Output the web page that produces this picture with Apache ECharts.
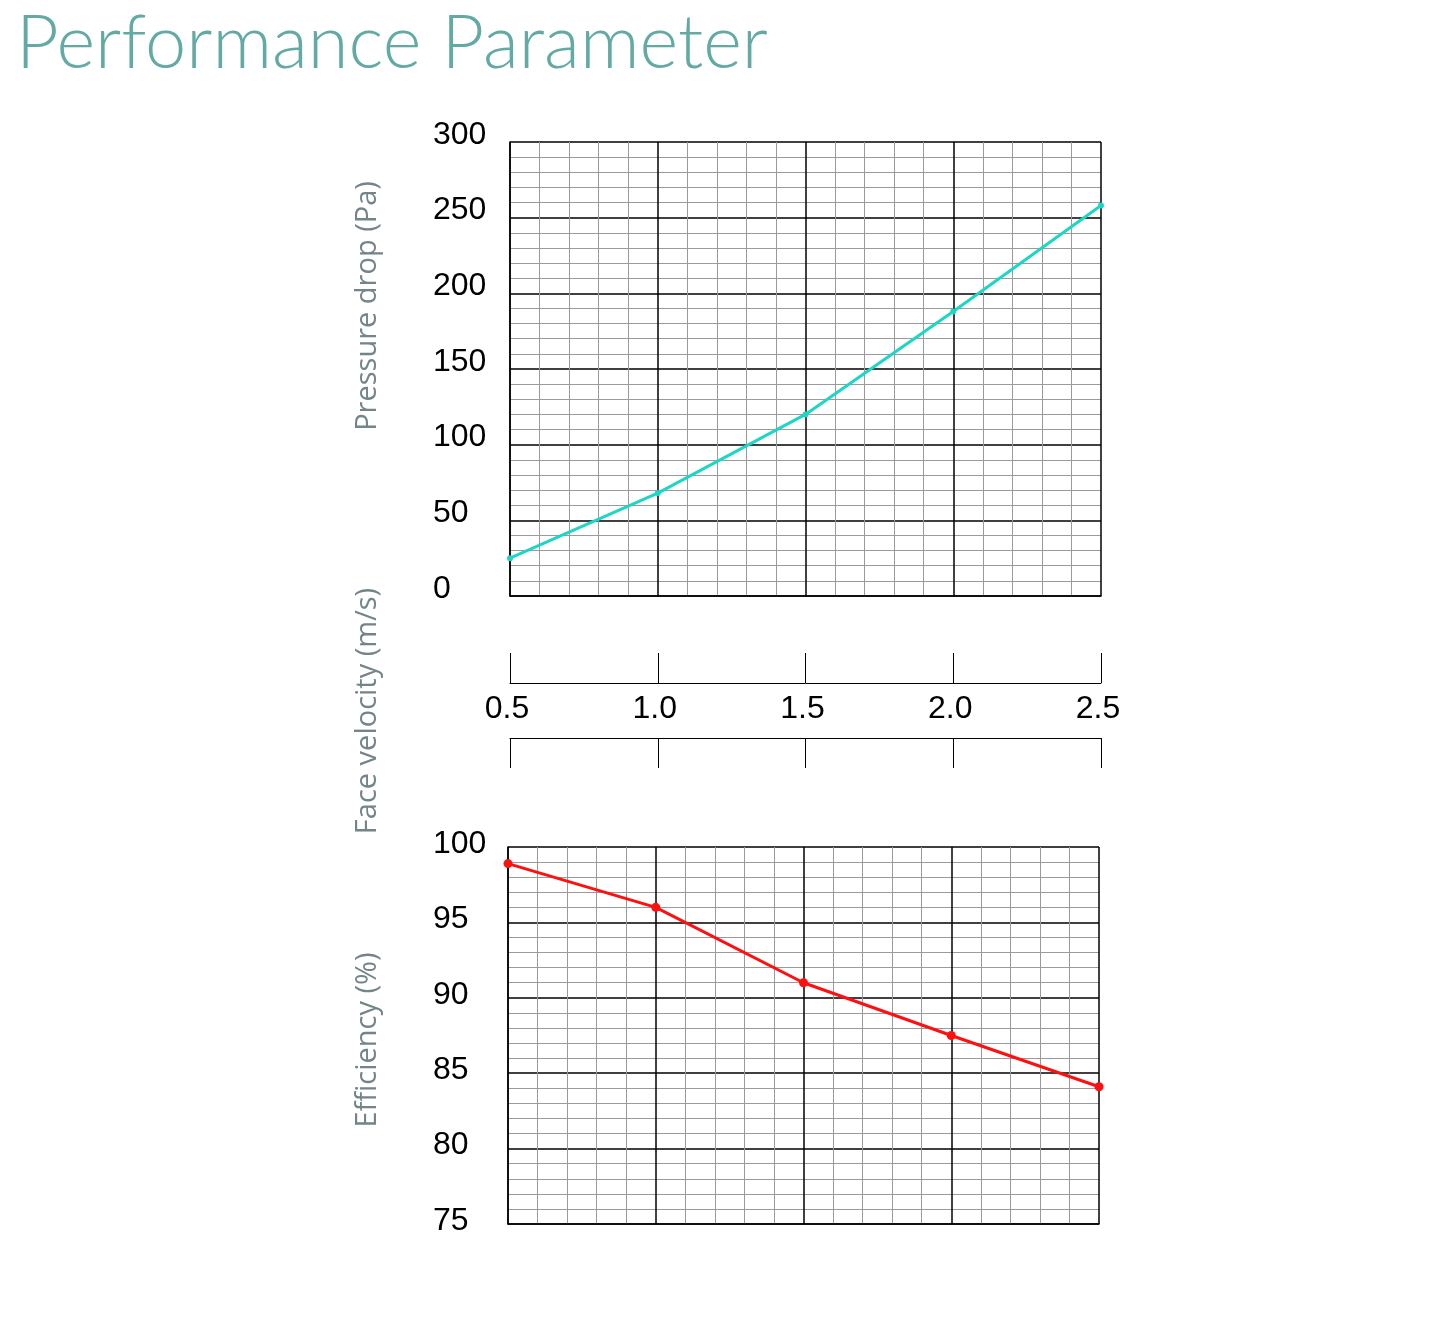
<!DOCTYPE html>
<html>
<head>
<meta charset="utf-8">
<script src="https://cdn.jsdelivr.net/npm/echarts@6/dist/echarts.min.js"></script>
<style>
html,body{margin:0;padding:0;background:#fff;}
#chart{width:1440px;height:1320px;}
</style>
</head>
<body>
<div id="chart"></div>
<script>
// ---- data ----
const velocity = [0.5, 1.0, 1.5, 2.0, 2.5];          // Face velocity (m/s)
const pressureDrop = [25, 68, 120, 188, 258];        // Pressure drop (Pa)
const efficiency = [98.9, 96.0, 91.0, 87.5, 84.1];   // Efficiency (%)
const titleText = 'Performance Parameter';
const pressureName = 'Pressure drop (Pa)';
const velocityName = 'Face velocity (m/s)';
const efficiencyName = 'Efficiency (%)';

const chart = echarts.init(document.getElementById('chart'), null, {renderer: 'canvas'});

const labelFont = {fontFamily: 'Liberation Sans, Arial, sans-serif', fontSize: 32, color: '#000'};
const nameStyle = {fontFamily: 'Open Sans, Noto Sans, sans-serif', fontSize: 29, fill: '#74858a', fontWeight: 'normal'};

function gridXAxis(gridIndex) {
  return {
    type: 'value', gridIndex, min: 0.5, max: 2.5, interval: 0.5,
    axisLine: {show: true, onZero: false, lineStyle: {color: '#000', width: 1.5}},
    axisTick: {show: false}, axisLabel: {show: false},
    splitLine: {show: true, lineStyle: {color: '#000', width: 1.5}},
    minorTick: {show: false, splitNumber: 5},
    minorSplitLine: {show: true, lineStyle: {color: '#9a9a9a', width: 1}}
  };
}

const option = {
  backgroundColor: '#fff',
  animation: false,
  title: {
    text: titleText, left: 11, top: 2,
    textStyle: {fontFamily: 'Lato, Open Sans, sans-serif', fontWeight: 300, fontSize: 74, color: '#62aaa3'}
  },
  graphic: [
    {type: 'text', x: 368, y: 306, rotation: Math.PI / 2,
     style: Object.assign({text: pressureName, align: 'center', verticalAlign: 'middle'}, nameStyle)},
    {type: 'text', x: 368, y: 711, rotation: Math.PI / 2,
     style: Object.assign({text: velocityName, align: 'center', verticalAlign: 'middle'}, nameStyle)},
    {type: 'text', x: 368, y: 1040, rotation: Math.PI / 2,
     style: Object.assign({text: efficiencyName, align: 'center', verticalAlign: 'middle'}, nameStyle)}
  ],
  grid: [
    {left: 510, top: 142, width: 591, height: 454, containLabel: false},
    {left: 508, top: 847, width: 591, height: 377, containLabel: false},
    {left: 510, top: 683, width: 591, height: 55, containLabel: false}
  ],
  xAxis: [
    gridXAxis(0),
    gridXAxis(1),
    {
      type: 'value', gridIndex: 2, position: 'top', min: 0.5, max: 2.5, interval: 0.5,
      axisLine: {show: true, onZero: false, lineStyle: {color: '#000', width: 1}},
      axisTick: {show: true, inside: false, length: 30, lineStyle: {color: '#000', width: 1}},
      axisLabel: Object.assign({show: true, inside: true, margin: 10, formatter: v => v.toFixed(1), padding: [0, 6, 0, 0]}, labelFont),
      splitLine: {show: false}
    },
    {
      type: 'value', gridIndex: 2, position: 'bottom', min: 0.5, max: 2.5, interval: 0.5,
      axisLine: {show: true, onZero: false, lineStyle: {color: '#000', width: 1}},
      axisTick: {show: true, inside: false, length: 30, lineStyle: {color: '#000', width: 1}},
      axisLabel: {show: false},
      splitLine: {show: false}
    }
  ],
  yAxis: [
    {
      type: 'value', gridIndex: 0, min: 0, max: 300, interval: 50,
      axisLine: {show: true, lineStyle: {color: '#000', width: 1.5}},
      axisTick: {show: false},
      axisLabel: Object.assign({margin: 77, align: 'left', verticalAlign: 'bottom', lineHeight: 14}, labelFont),
      splitLine: {show: true, lineStyle: {color: '#000', width: 1.5}},
      minorTick: {show: false, splitNumber: 5},
      minorSplitLine: {show: true, lineStyle: {color: '#9a9a9a', width: 1}}
    },
    {
      type: 'value', gridIndex: 1, min: 75, max: 100, interval: 5,
      axisLine: {show: true, lineStyle: {color: '#000', width: 1.5}},
      axisTick: {show: false},
      axisLabel: Object.assign({margin: 75, align: 'left', verticalAlign: 'bottom', lineHeight: 6}, labelFont),
      splitLine: {show: true, lineStyle: {color: '#000', width: 1.5}},
      minorTick: {show: false, splitNumber: 5},
      minorSplitLine: {show: true, lineStyle: {color: '#9a9a9a', width: 1}}
    },
    {type: 'value', gridIndex: 2, min: 0, max: 1, show: false}
  ],
  series: [
    {
      type: 'line', xAxisIndex: 0, yAxisIndex: 0,
      data: velocity.map((v, i) => [v, pressureDrop[i]]),
      symbol: 'circle', symbolSize: 6,
      lineStyle: {color: '#1dd6c6', width: 3},
      itemStyle: {color: '#1dd6c6'}
    },
    {
      type: 'line', xAxisIndex: 1, yAxisIndex: 1,
      data: velocity.map((v, i) => [v, efficiency[i]]),
      symbol: 'circle', symbolSize: 9,
      lineStyle: {color: '#ff1010', width: 3},
      itemStyle: {color: '#ff1010'}
    }
  ]
};
chart.setOption(option);
</script>
</body>
</html>
